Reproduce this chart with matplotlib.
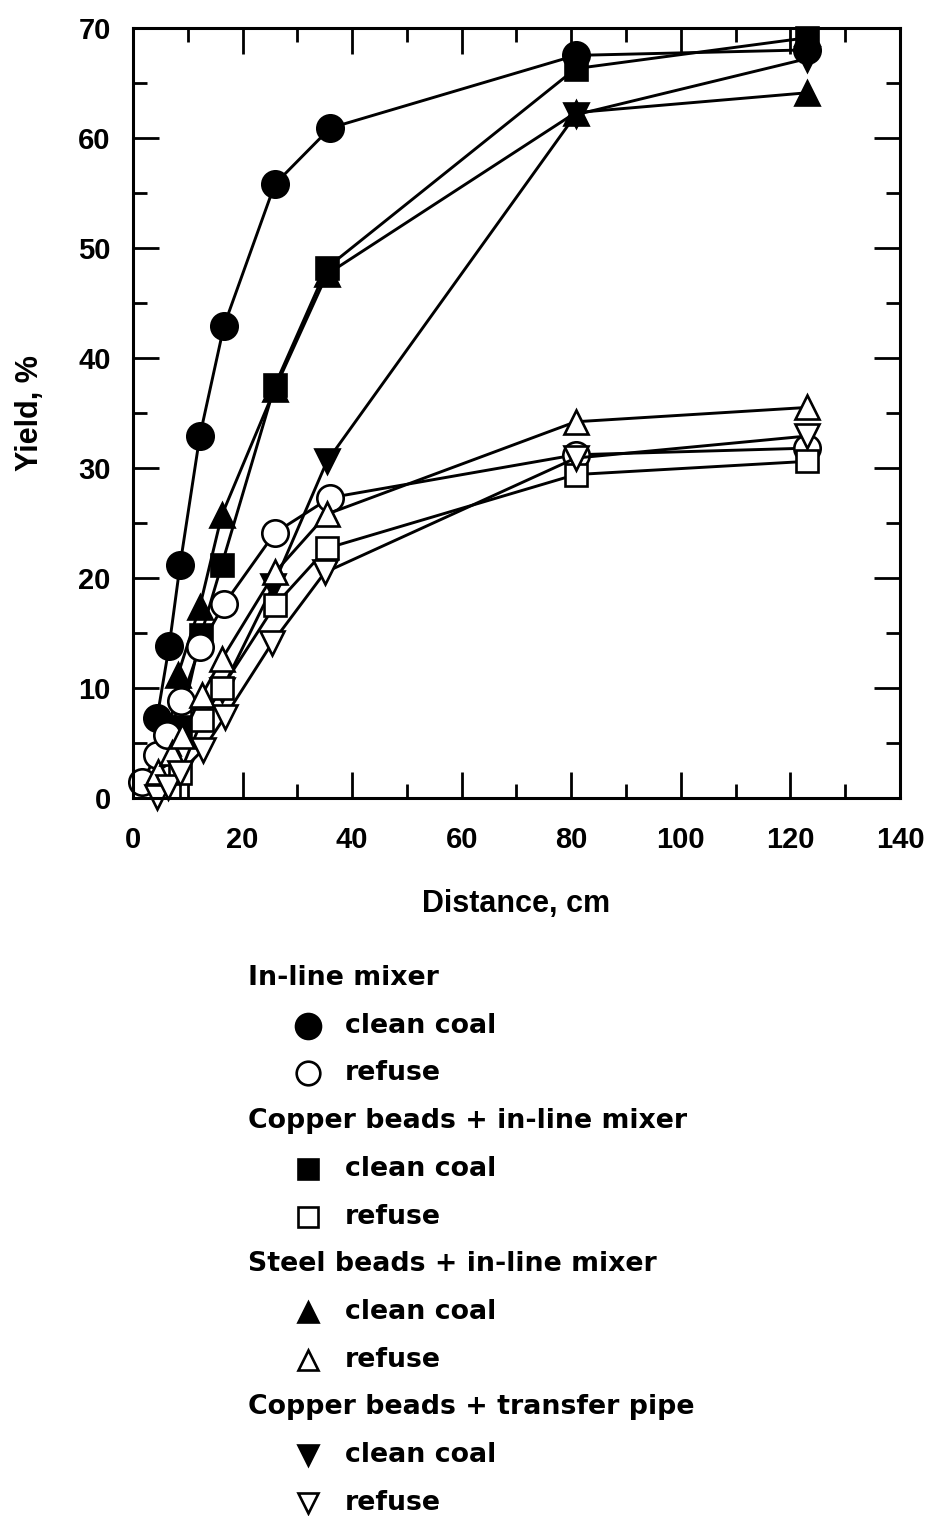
import matplotlib
matplotlib.use("Agg")
import matplotlib.pyplot as plt
from matplotlib.ticker import MultipleLocator

# In-line mixer
inline_cc_x = [4.4, 6.6, 8.6, 12.2, 16.6, 25.9, 36.0, 80.8, 123.0]
inline_cc_y = [7.3, 13.8, 21.2, 32.9, 42.9, 55.8, 60.9, 67.5, 68.0]
inline_rf_x = [1.6, 4.4, 6.2, 8.8, 12.2, 16.6, 25.9, 36.0, 80.8, 123.0]
inline_rf_y = [1.5, 3.9, 5.7, 8.8, 13.7, 17.6, 24.1, 27.3, 31.2, 31.8]

# Copper beads + in-line mixer
cu_cc_x = [8.6, 12.4, 16.2, 25.9, 35.4, 80.8, 123.0]
cu_cc_y = [6.5, 14.8, 21.2, 37.5, 48.2, 66.3, 69.1]
cu_rf_x = [6.6, 8.6, 12.6, 16.2, 25.9, 35.4, 80.8, 123.0]
cu_rf_y = [1.0, 2.3, 7.1, 10.0, 17.5, 22.7, 29.4, 30.6]

# Steel beads + in-line mixer
st_cc_x = [6.4, 8.2, 12.2, 16.2, 25.9, 35.4, 80.8, 123.0]
st_cc_y = [5.0, 11.2, 17.4, 25.7, 37.2, 47.6, 62.3, 64.1]
st_rf_x = [4.6, 7.1, 9.0, 12.6, 16.2, 25.9, 35.4, 80.8, 123.0]
st_rf_y = [2.4, 4.1, 5.6, 9.4, 12.6, 20.5, 25.8, 34.2, 35.5]

# Copper beads + transfer pipe
tp_cc_x = [16.2, 25.6, 35.4, 80.8, 123.0]
tp_cc_y = [9.8, 19.3, 30.6, 62.1, 67.2]
tp_rf_x = [4.4, 6.4, 8.6, 12.8, 16.8, 25.4, 35.0, 80.8, 123.0]
tp_rf_y = [0.1, 1.0, 2.3, 4.4, 7.4, 14.1, 20.5, 30.9, 32.9]

x_ticks = [0, 20, 40, 60, 80, 100, 120, 140]
y_ticks = [0, 10, 20, 30, 40, 50, 60, 70]

groups = ["In-line mixer", "Copper beads + in-line mixer",
          "Steel beads + in-line mixer", "Copper beads + transfer pipe"]
items = ["clean coal", "refuse"]

arial = ["Liberation Sans", "DejaVu Sans"]
legfont = ["DejaVu Sans"]

fig = plt.figure(figsize=(9.28, 15.16), dpi=100)
ax = fig.add_axes([0.1433, 0.4736, 0.8265, 0.508])

series = [
    (inline_cc_x, inline_cc_y, "o", "black", 19),
    (cu_cc_x, cu_cc_y, "s", "black", 16.5),
    (st_cc_x, st_cc_y, "^", "black", 17),
    (tp_cc_x, tp_cc_y, "v", "black", 17),
    (inline_rf_x, inline_rf_y, "o", "white", 19),
    (cu_rf_x, cu_rf_y, "s", "white", 16.5),
    (st_rf_x, st_rf_y, "^", "white", 17),
    (tp_rf_x, tp_rf_y, "v", "white", 17),
]
for xs, ys, m, fc, ms in series:
    ax.plot(xs, ys, "-", color="black", lw=2.1, marker=m, ms=ms,
            mfc=fc, mec="black", mew=1.9, clip_on=False)

ax.set_xlim(0, 140)
ax.set_ylim(0, 70)
ax.set_xticks(x_ticks)
ax.set_yticks(y_ticks)
ax.xaxis.set_minor_locator(MultipleLocator(10))
ax.yaxis.set_minor_locator(MultipleLocator(5))
ax.tick_params(which="both", direction="in", top=True, right=True, width=2)
ax.tick_params(which="major", length=19)
ax.tick_params(which="minor", length=10)
ax.tick_params(axis="x", pad=20)
ax.tick_params(axis="y", pad=16)
for s in ax.spines.values():
    s.set_linewidth(2.2)

for lab in ax.get_xticklabels() + ax.get_yticklabels():
    lab.set_family(arial)
    lab.set_fontweight("bold")
    lab.set_fontsize(21)

ax.set_xlabel("Distance, cm", family=arial, fontweight="bold",
              fontsize=22, labelpad=25)
ax.set_ylabel("Yield, %", family=arial, fontweight="bold",
              fontsize=22, labelpad=24)

# legend drawn as a text block below the chart
lax = fig.add_axes([0, 0, 1, 1])
lax.set_xlim(0, 928)
lax.set_ylim(1516, 0)
lax.axis("off")

marks = [("o", "black", 18), ("o", "white", 17), ("s", "black", 15),
         ("s", "white", 15), ("^", "black", 14), ("^", "white", 14),
         ("v", "black", 14), ("v", "white", 14)]
step = 47.7
for i, g in enumerate(groups):
    y0 = 978 + 3 * step * i
    lax.text(248, y0, g, family=legfont, fontweight="bold", fontsize=19.3,
             va="center", ha="left")
    for j, lbl in enumerate(items):
        m, fc, ms = marks[2 * i + j]
        yy = y0 + step * (j + 1)
        lax.plot([308], [yy], marker=m, ms=ms, mfc=fc, mec="black",
                 mew=1.9, ls="none")
        lax.text(345, yy, lbl, family=legfont, fontweight="bold",
                 fontsize=19.3, va="center", ha="left")

fig.savefig("out.png", dpi=100)
